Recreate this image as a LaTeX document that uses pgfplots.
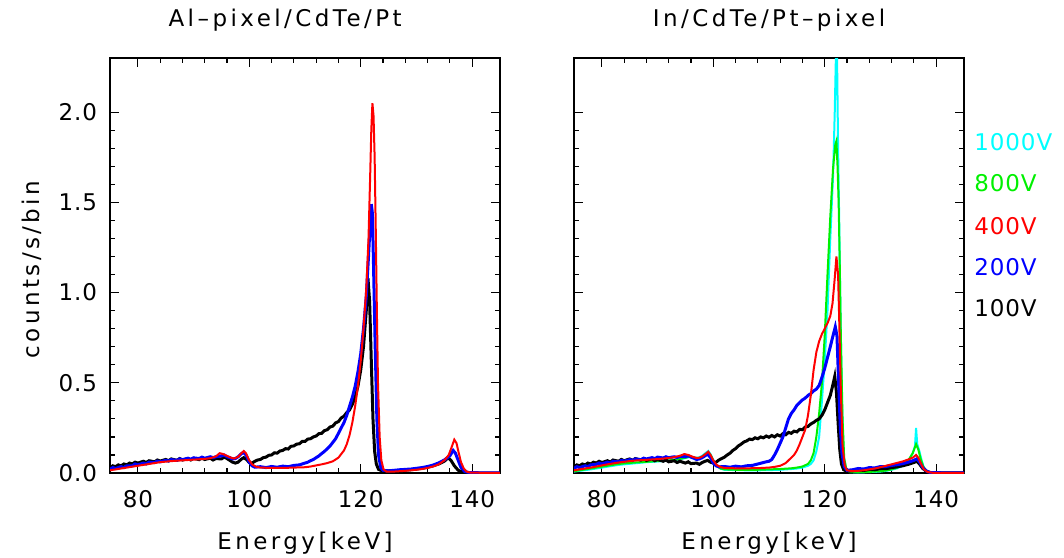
\documentclass[border=0pt]{standalone}
\usepackage{fontspec}
\setmainfont[LetterSpace=15]{DejaVu Sans}
\newfontfamily\tickfont[LetterSpace=4]{DejaVu Sans}
\usepackage{pgfplots}
\pgfplotsset{compat=1.18}
\definecolor{cy}{RGB}{0,255,255}
\definecolor{gr}{RGB}{0,240,0}
\definecolor{rd}{RGB}{255,0,0}
\definecolor{bl}{RGB}{0,0,255}
\tikzset{leg/.style={anchor=west, inner sep=0pt, font=\fontsize{11.5}{13}\selectfont\tickfont}}
\pgfplotsset{
  spec/.style={
    scale only axis, width=195pt, height=207.5pt,
    xmin=75, xmax=145, ymin=0, ymax=2.3,
    xtick={80,100,120,140}, minor x tick num=4,
    ytick={0,0.5,1.0,1.5,2.0}, minor y tick num=4,
    tick align=inside, tick pos=both,
    major tick length=4.5pt, minor tick length=2.5pt,
    axis line style={line width=0.8pt},
    every tick/.style={line width=0.6pt, black},
    font=\fontsize{11.5}{13}\selectfont,
    /pgf/number format/assume math mode=true,
    xticklabel style={font=\fontsize{11.5}{13}\selectfont\tickfont, yshift=-5pt},
    yticklabel style={font=\fontsize{11.5}{13}\selectfont\tickfont, xshift=-3pt},
    xticklabel={\pgfmathprintnumber[fixed,precision=0]{\tick}},
    title style={at={(axis description cs:0.5,1.0916)}, anchor=center, yshift=-6pt},
    xlabel style={at={(axis description cs:0.5,-0.1687)}, anchor=center},
    ylabel style={at={(axis description cs:-0.2,0.49)}, anchor=center},
    xlabel={Energy[keV]},
    clip mode=individual,
  },
  noisy/.style={line width=1.5pt},
  smooth line/.style={line width=1pt},
}
\begin{document}
\begin{tikzpicture}
\path[use as bounding box] (0,0) rectangle (532pt,278.5pt);
% ---------------- Left panel ----------------
\begin{axis}[spec, at={(55pt,42pt)}, anchor=south west,
  title={Al--pixel/CdTe/Pt},
  title style={at={(axis description cs:0.449,1.0916)}},
  ylabel={counts/s/bin},
  yticklabel={\pgfmathprintnumber[fixed,fixed zerofill,precision=1]{\tick}}]
% 100V black
\addplot[black, noisy] coordinates {
(75,0.030)(75.5,0.040)(76,0.035)(76.5,0.045)(77,0.040)(77.5,0.050)(78,0.045)(78.5,0.055)(79,0.050)(79.5,0.060)
(80,0.055)(81,0.065)(81.5,0.058)(82,0.068)(83,0.062)(83.5,0.072)(84,0.066)(85,0.075)(85.5,0.068)(86,0.078)
(87,0.070)(87.5,0.080)(88,0.072)(89,0.080)(89.5,0.072)(90,0.082)(91,0.074)(91.5,0.083)(92,0.075)(93,0.082)
(93.5,0.072)(94,0.080)(95,0.078)(95.5,0.088)(96,0.080)(96.5,0.070)(97,0.060)(97.5,0.055)(98,0.060)(98.5,0.075)
(99,0.085)(99.5,0.075)(100,0.058)(100.5,0.055)(101,0.065)(101.5,0.072)(102,0.075)(102.5,0.085)(103,0.088)(103.5,0.098)
(104,0.100)(104.5,0.112)(105,0.110)(105.5,0.122)(106,0.125)(106.5,0.135)(107,0.133)(107.5,0.148)(108,0.150)(108.5,0.160)
(109,0.162)(109.5,0.175)(110,0.175)(110.5,0.188)(111,0.190)(111.5,0.200)(112,0.205)(112.5,0.218)(113,0.220)(113.5,0.235)
(114,0.240)(114.5,0.255)(115,0.260)(115.5,0.278)(116,0.285)(116.5,0.305)(117,0.315)(117.5,0.335)(118,0.350)(118.5,0.380)
(119,0.420)(119.5,0.480)(120,0.570)(120.5,0.700)(121,0.900)(121.3,1.080)(121.6,0.950)(121.9,0.620)(122.2,0.300)(122.5,0.120)
(122.8,0.050)(123.2,0.020)(124,0.010)(125,0.012)(126,0.010)(127,0.014)(128,0.016)(129,0.018)(130,0.022)(131,0.026)
(132,0.032)(133,0.040)(134,0.050)(135,0.065)(135.7,0.085)(136.2,0.070)(136.8,0.040)(137.5,0.015)(138.5,0.003)(140,0)(145,0)
};
% 200V blue
\addplot[bl, noisy] coordinates {
(75,0.020)(75.5,0.030)(76,0.025)(77,0.035)(77.5,0.030)(78,0.040)(79,0.040)(79.5,0.050)(80,0.045)(81,0.055)
(81.5,0.050)(82,0.060)(83,0.058)(83.5,0.066)(84,0.062)(85,0.070)(85.5,0.066)(86,0.074)(87,0.070)(87.5,0.078)
(88,0.074)(89,0.082)(89.5,0.076)(90,0.084)(91,0.080)(91.5,0.088)(92,0.082)(93,0.090)(93.5,0.085)(94,0.090)
(95,0.095)(95.5,0.100)(96,0.090)(96.5,0.085)(97,0.078)(97.5,0.080)(98,0.090)(98.5,0.105)(99,0.115)(99.5,0.095)
(100,0.060)(100.5,0.040)(101,0.032)(102,0.035)(103,0.030)(104,0.036)(105,0.032)(106,0.038)(107,0.035)(108,0.042)
(109,0.045)(110,0.055)(110.5,0.060)(111,0.068)(111.5,0.075)(112,0.085)(112.5,0.095)(113,0.108)(113.5,0.120)(114,0.135)
(114.5,0.150)(115,0.170)(115.5,0.190)(116,0.220)(116.5,0.250)(117,0.280)(117.5,0.320)(118,0.370)(118.5,0.420)(119,0.480)
(119.5,0.560)(120,0.660)(120.5,0.800)(121,0.980)(121.4,1.200)(121.7,1.380)(121.9,1.490)(122.1,1.440)(122.3,1.150)(122.6,0.700)
(122.9,0.300)(123.2,0.100)(123.6,0.030)(124,0.015)(125,0.012)(126,0.015)(127,0.018)(128,0.020)(129,0.022)(130,0.026)
(131,0.030)(132,0.036)(133,0.044)(134,0.056)(135,0.072)(136,0.095)(136.6,0.125)(137,0.110)(137.5,0.070)(138,0.030)
(138.7,0.008)(139.5,0.002)(145,0)
};
% 400V red
\addplot[rd, smooth line] coordinates {
(75,0.015)(76,0.020)(77,0.025)(78,0.030)(79,0.035)(80,0.040)(81,0.045)(82,0.050)(83,0.055)(84,0.060)
(85,0.063)(86,0.066)(87,0.068)(88,0.070)(89,0.072)(90,0.074)(91,0.076)(92,0.078)(93,0.082)(94,0.092)
(94.7,0.110)(95.3,0.105)(96,0.095)(96.7,0.085)(97.3,0.080)(98,0.090)(98.6,0.110)(99,0.122)(99.4,0.110)(99.9,0.075)
(100.5,0.048)(101.2,0.035)(102,0.030)(104,0.028)(106,0.028)(108,0.030)(110,0.032)(111,0.036)(112,0.042)(113,0.048)
(114,0.055)(115,0.065)(116,0.085)(117,0.125)(117.5,0.160)(118,0.210)(118.5,0.280)(119,0.370)(119.5,0.480)(120,0.620)
(120.5,0.800)(121,1.020)(121.4,1.300)(121.7,1.650)(121.9,1.900)(122.1,2.050)(122.3,1.980)(122.5,1.750)(122.7,1.350)(122.9,0.900)
(123.1,0.500)(123.4,0.200)(123.7,0.070)(124.1,0.020)(124.6,0.008)(126,0.008)(128,0.012)(130,0.018)(131,0.022)(132,0.028)
(133,0.036)(134,0.048)(135,0.070)(135.8,0.100)(136.4,0.150)(136.8,0.185)(137.2,0.165)(137.6,0.110)(138,0.060)(138.5,0.025)
(139,0.008)(139.7,0.002)(145,0)
};
\end{axis}
% ---------------- Right panel ----------------
\begin{axis}[spec, at={(287pt,42pt)}, anchor=south west,
  title={In/CdTe/Pt--pixel},
  yticklabels={}]
% 1000V cyan
\addplot[cy, smooth line] coordinates {
(75,0.008)(76,0.012)(77,0.016)(78,0.020)(79,0.025)(80,0.030)(81,0.035)(82,0.040)(83,0.045)(84,0.048)
(85,0.051)(86,0.054)(87,0.057)(88,0.060)(89,0.062)(90,0.064)(91,0.066)(92,0.068)(93,0.071)(94,0.076)
(95,0.083)(95.7,0.088)(96.5,0.085)(97.3,0.085)(98,0.095)(98.6,0.110)(99.1,0.122)(99.5,0.105)(100,0.072)(100.6,0.040)
(101.3,0.024)(102,0.018)(104,0.016)(106,0.015)(108,0.015)(110,0.016)(112,0.018)(114,0.022)(115,0.025)(116,0.030)
(117,0.040)(117.5,0.050)(118,0.070)(118.5,0.120)(119,0.200)(119.5,0.400)(120,0.620)(120.5,0.900)(121,1.300)(121.5,1.650)
(121.8,2.000)(122.0,2.300)(122.2,2.350)(122.4,1.800)(122.6,1.400)(122.8,0.950)(123.1,0.400)(123.4,0.100)(123.8,0.025)(124.5,0.005)
(126,0.003)(128,0.005)(130,0.008)(131,0.012)(132,0.018)(133,0.026)(134,0.040)(135,0.065)(135.8,0.110)(136.2,0.150)
(136.4,0.250)(136.6,0.160)(137,0.120)(137.4,0.070)(137.8,0.030)(138.4,0.008)(139,0.002)(145,0)
};
% 800V green
\addplot[gr, smooth line] coordinates {
(75,0.010)(76,0.015)(77,0.020)(78,0.025)(79,0.030)(80,0.035)(81,0.040)(82,0.045)(83,0.050)(84,0.053)
(85,0.056)(86,0.058)(87,0.060)(88,0.062)(89,0.064)(90,0.066)(91,0.068)(92,0.070)(93,0.073)(94,0.078)
(95,0.085)(95.7,0.090)(96.5,0.085)(97.3,0.082)(98,0.090)(98.6,0.105)(99.1,0.115)(99.5,0.100)(100,0.070)(100.6,0.040)
(101.3,0.025)(102,0.020)(104,0.018)(106,0.018)(108,0.018)(110,0.020)(112,0.022)(114,0.026)(115,0.030)(116,0.036)
(117,0.050)(117.5,0.070)(118,0.110)(118.5,0.200)(119,0.330)(119.5,0.500)(120,0.760)(120.5,1.100)(121,1.420)(121.5,1.690)
(121.9,1.820)(122.1,1.840)(122.3,1.700)(122.5,1.500)(122.7,1.150)(122.9,0.750)(123.2,0.300)(123.5,0.080)(123.9,0.020)(124.5,0.005)
(126,0.004)(128,0.006)(130,0.010)(131,0.014)(132,0.020)(133,0.030)(134,0.045)(135,0.070)(135.8,0.110)(136.4,0.160)
(136.8,0.130)(137.2,0.080)(137.7,0.035)(138.3,0.010)(139,0.002)(145,0)
};
% 100V black
\addplot[black, noisy] coordinates {
(75,0.035)(75.5,0.045)(76,0.040)(76.5,0.050)(77,0.045)(77.5,0.055)(78,0.050)(78.5,0.060)(79,0.055)(79.5,0.065)
(80,0.058)(81,0.068)(81.5,0.060)(82,0.072)(83,0.065)(83.5,0.075)(84,0.068)(85,0.078)(85.5,0.070)(86,0.080)
(87,0.072)(87.5,0.080)(88,0.070)(89,0.078)(89.5,0.068)(90,0.075)(91,0.065)(91.5,0.072)(92,0.062)(93,0.068)
(93.5,0.058)(94,0.065)(95,0.055)(95.5,0.062)(96,0.052)(97,0.055)(97.5,0.048)(98,0.058)(98.5,0.065)(99,0.070)
(99.5,0.060)(100,0.055)(100.5,0.060)(101,0.072)(101.5,0.080)(102,0.088)(102.5,0.100)(103,0.110)(103.5,0.125)(104,0.135)
(104.5,0.150)(105,0.160)(105.5,0.172)(106,0.178)(106.5,0.188)(107,0.185)(107.5,0.195)(108,0.190)(108.5,0.200)(109,0.195)
(109.5,0.205)(110,0.198)(110.5,0.208)(111,0.200)(111.5,0.212)(112,0.205)(112.5,0.218)(113,0.212)(113.5,0.225)(114,0.220)
(114.5,0.232)(115,0.228)(115.5,0.242)(116,0.240)(116.5,0.255)(117,0.258)(117.5,0.272)(118,0.280)(118.5,0.292)(119,0.300)
(119.5,0.320)(120,0.350)(120.5,0.390)(121,0.430)(121.4,0.480)(121.8,0.535)(122.1,0.450)(122.4,0.280)(122.7,0.130)(123,0.050)
(123.4,0.018)(124,0.010)(125,0.012)(126,0.018)(127,0.014)(128,0.020)(129,0.018)(130,0.024)(131,0.024)(132,0.030)
(133,0.034)(134,0.040)(135,0.048)(136,0.058)(136.5,0.065)(137,0.050)(137.6,0.025)(138.3,0.008)(139,0.002)(145,0)
};
% 200V blue
\addplot[bl, noisy] coordinates {
(75,0.025)(75.5,0.035)(76,0.030)(77,0.040)(77.5,0.035)(78,0.045)(79,0.048)(79.5,0.055)(80,0.050)(81,0.060)
(81.5,0.055)(82,0.065)(83,0.062)(83.5,0.070)(84,0.066)(85,0.074)(85.5,0.070)(86,0.078)(87,0.074)(87.5,0.082)
(88,0.078)(89,0.085)(89.5,0.080)(90,0.088)(91,0.083)(91.5,0.090)(92,0.085)(93,0.090)(93.5,0.086)(94,0.092)
(95,0.090)(95.5,0.096)(96,0.088)(96.5,0.082)(97,0.075)(97.5,0.078)(98,0.085)(98.5,0.095)(99,0.105)(99.5,0.085)
(100,0.055)(100.5,0.040)(101,0.034)(102,0.036)(103,0.032)(104,0.038)(105,0.034)(106,0.040)(107,0.042)(108,0.050)
(108.5,0.054)(109,0.058)(109.5,0.062)(110,0.065)(110.5,0.075)(111,0.100)(111.5,0.130)(112,0.165)(112.5,0.200)(113,0.250)
(113.5,0.300)(114,0.330)(114.5,0.350)(115,0.375)(115.5,0.390)(116,0.405)(116.5,0.415)(117,0.430)(117.5,0.440)(118,0.455)
(118.5,0.465)(119,0.485)(119.5,0.530)(120,0.580)(120.5,0.640)(121,0.700)(121.4,0.750)(121.9,0.810)(122.2,0.760)(122.5,0.500)
(122.8,0.250)(123.1,0.110)(123.5,0.035)(124,0.015)(125,0.018)(126,0.025)(127,0.022)(128,0.030)(129,0.028)(130,0.036)
(131,0.036)(132,0.042)(133,0.046)(134,0.052)(135,0.060)(136,0.070)(136.5,0.078)(137,0.062)(137.6,0.030)(138.3,0.010)
(139,0.002)(145,0)
};
% 400V red
\addplot[rd, smooth line] coordinates {
(75,0.015)(76,0.020)(77,0.025)(78,0.030)(79,0.036)(80,0.042)(81,0.048)(82,0.053)(83,0.058)(84,0.062)
(85,0.066)(86,0.069)(87,0.071)(88,0.073)(89,0.075)(90,0.077)(91,0.080)(92,0.083)(93,0.088)(94,0.095)
(94.8,0.105)(95.5,0.100)(96.3,0.090)(97,0.083)(97.6,0.085)(98.2,0.095)(98.8,0.110)(99.1,0.118)(99.5,0.100)(100,0.070)
(100.6,0.045)(101.3,0.033)(102,0.028)(104,0.026)(106,0.026)(108,0.027)(110,0.030)(111,0.034)(112,0.040)(113,0.055)
(113.5,0.070)(114,0.085)(114.5,0.100)(115,0.125)(115.5,0.160)(116,0.200)(116.5,0.240)(117,0.320)(117.5,0.430)(118,0.570)
(118.5,0.670)(119,0.730)(119.5,0.770)(120,0.800)(120.5,0.830)(121,0.870)(121.4,0.940)(121.8,1.080)(122.1,1.200)(122.4,1.100)
(122.6,0.850)(122.9,0.450)(123.2,0.150)(123.6,0.040)(124,0.015)(125,0.010)(126,0.012)(127,0.015)(128,0.020)(129,0.025)
(130,0.032)(131,0.040)(132,0.048)(133,0.056)(134,0.064)(135,0.075)(135.8,0.085)(136.4,0.100)(136.8,0.085)(137.3,0.050)
(137.8,0.020)(138.5,0.005)(139.5,0.001)(145,0)
};
\node[leg, text=cy] at (axis description cs:1.0255,0.798) {1000V};
\node[leg, text=gr] at (axis description cs:1.0255,0.699) {800V};
\node[leg, text=rd] at (axis description cs:1.0255,0.595) {400V};
\node[leg, text=bl] at (axis description cs:1.0255,0.496) {200V};
\node[leg, text=black] at (axis description cs:1.0255,0.398) {100V};
\end{axis}
\end{tikzpicture}
\end{document}
